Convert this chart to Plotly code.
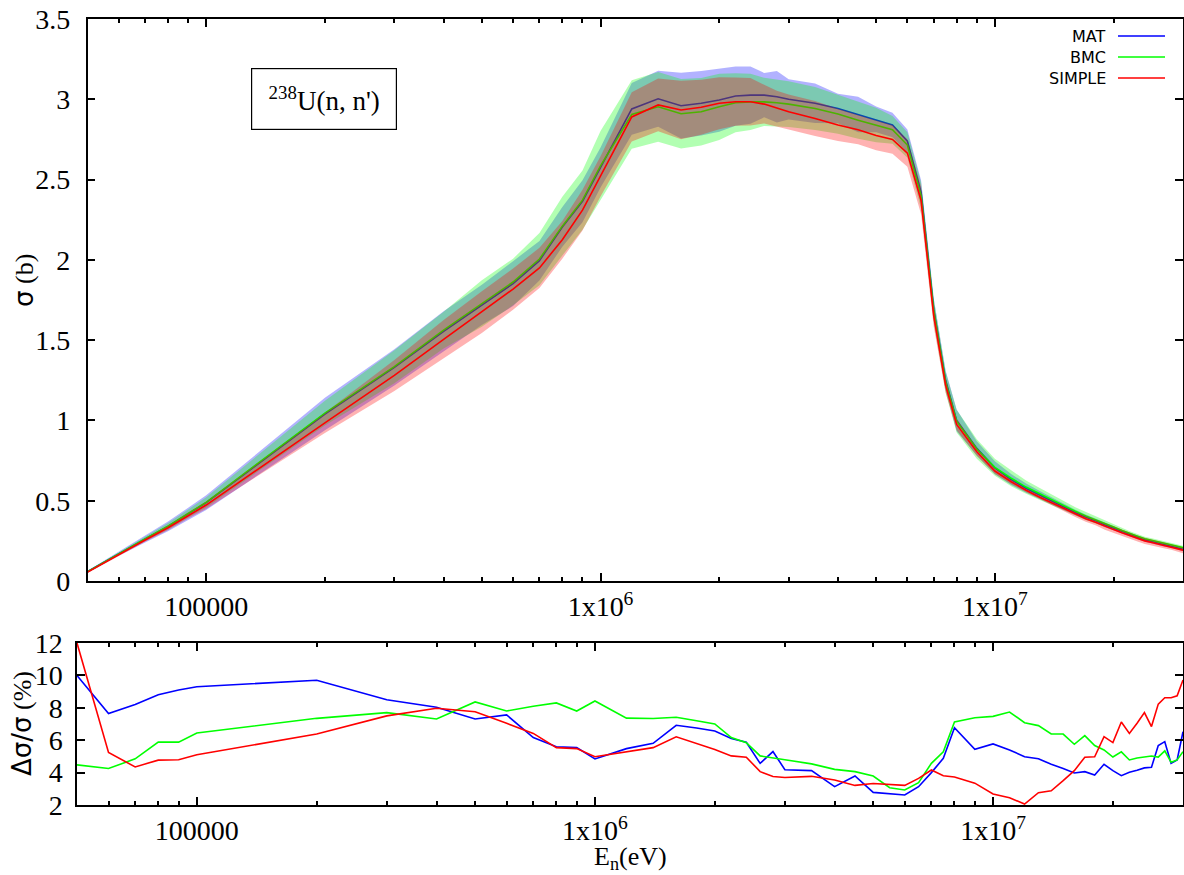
import numpy as np
import plotly.graph_objects as go

# ---------------- data ----------------
energy = [5e4, 6e4, 7e4, 8e4, 9e4, 1e5, 2e5, 3e5, 4e5, 5e5, 6e5, 7e5, 8e5, 9e5,
          1e6, 1.2e6, 1.4e6, 1.6e6, 1.8e6, 2e6, 2.2e6, 2.4e6, 2.6e6, 2.8e6, 3e6,
          3.5e6, 4e6, 4.5e6, 5e6, 5.5e6, 6e6, 6.5e6, 7e6, 7.5e6, 8e6, 9e6,
          1e7, 1.1e7, 1.2e7, 1.3e7, 1.4e7, 1.5e7, 1.6e7, 1.7e7, 1.8e7, 1.9e7,
          2e7, 2.1e7, 2.2e7, 2.3e7, 2.4e7, 2.5e7, 2.6e7, 2.7e7, 2.8e7, 2.9e7, 3e7]

mat_xs = [0.058, 0.170, 0.262, 0.340, 0.418, 0.488, 1.040, 1.330, 1.555, 1.720, 1.852, 1.995, 2.205, 2.365,
          2.575, 2.940, 3.003, 2.960, 2.975, 2.995, 3.020, 3.026, 3.026, 3.016, 3.000,
          2.975, 2.943, 2.905, 2.875, 2.840, 2.740, 2.420, 1.690, 1.250, 1.000, 0.826,
          0.705, 0.632, 0.578, 0.535, 0.496, 0.460, 0.426, 0.398, 0.376, 0.350,
          0.329, 0.308, 0.288, 0.272, 0.256, 0.246, 0.236, 0.227, 0.219, 0.208, 0.198]

bmc_xs = [0.058, 0.170, 0.262, 0.341, 0.420, 0.490, 1.046, 1.335, 1.562, 1.728, 1.862, 2.005, 2.210, 2.372,
          2.585, 2.905, 2.953, 2.910, 2.922, 2.953, 2.978, 2.984, 2.984, 2.978, 2.970,
          2.943, 2.908, 2.870, 2.840, 2.810, 2.715, 2.400, 1.680, 1.240, 0.995, 0.822,
          0.708, 0.640, 0.585, 0.542, 0.502, 0.467, 0.434, 0.405, 0.382, 0.357,
          0.336, 0.315, 0.295, 0.279, 0.263, 0.253, 0.243, 0.235, 0.227, 0.217, 0.208]

simple_xs = [0.055, 0.165, 0.255, 0.332, 0.408, 0.473, 0.985, 1.280, 1.505, 1.675, 1.818, 1.950, 2.125, 2.310,
             2.520, 2.890, 2.965, 2.933, 2.950, 2.975, 2.985, 2.985, 2.970, 2.943, 2.922,
             2.880, 2.840, 2.810, 2.775, 2.750, 2.665, 2.370, 1.650, 1.220, 0.975, 0.805,
             0.685, 0.618, 0.565, 0.522, 0.484, 0.449, 0.416, 0.388, 0.366, 0.341,
             0.320, 0.300, 0.281, 0.265, 0.250, 0.240, 0.230, 0.221, 0.213, 0.203, 0.192]

mat_unc = [10.0, 7.65, 8.2, 8.8, 9.1, 9.3, 9.7, 8.5, 8.03, 7.31, 7.56, 6.16, 5.6, 5.54,
           4.84, 5.48, 5.81, 6.92, 6.75, 6.57, 6.11, 5.87, 4.57, 5.3, 4.18,
           4.12, 3.13, 3.79, 2.78, 2.70, 2.62, 3.13, 4.0, 4.88, 6.77, 5.44,
           5.77, 5.4, 4.98, 4.86, 4.51, 4.25, 3.98, 4.06, 3.85, 4.51,
           4.12, 3.81, 4.02, 4.15, 4.29, 4.33, 5.67, 5.91, 4.57, 4.78, 6.52]

bmc_unc = [4.48, 4.25, 4.85, 5.88, 5.88, 6.44, 7.35, 7.7, 7.31, 8.36, 7.8, 8.1, 8.3, 7.8,
           8.42, 7.36, 7.34, 7.42, 7.2, 7.0, 6.16, 5.85, 5.03, 4.89, 4.79,
           4.54, 4.2, 4.06, 3.79, 3.07, 2.93, 3.38, 4.57, 5.29, 7.12, 7.39,
           7.47, 7.74, 7.08, 6.9, 6.38, 6.38, 5.75, 6.28, 5.67, 5.4,
           4.96, 5.28, 4.78, 4.9, 4.98, 5.02, 4.96, 5.34, 4.64, 4.78, 5.29]

simple_unc = [12.0, 5.24, 4.35, 4.77, 4.79, 5.1, 6.38, 7.5, 7.97, 7.76, 7.04, 6.42, 5.54, 5.48,
              4.98, 5.3, 5.54, 6.21, 5.8, 5.43, 5.03, 4.95, 4.06, 3.76, 3.7,
              3.77, 3.54, 3.21, 3.33, 3.27, 3.21, 3.64, 4.16, 3.81, 3.73, 3.35,
              2.68, 2.45, 2.06, 2.76, 2.88, 3.5, 4.12, 4.95, 4.98, 6.22,
              5.85, 7.12, 6.42, 7.05, 7.7, 6.84, 8.23, 8.62, 8.62, 8.74, 9.72]

series_names = ["MAT", "BMC", "SIMPLE"]
major_ticks = [1e5, 1e6, 1e7]
major_tick_text = ["100000", "1x10<sup>6</sup>", "1x10<sup>7</sup>"]

# ---------------- styling ----------------
W, H = 1184, 875
line_colors = ["#0000ff", "#00ff00", "#ff0000"]
fill_colors = ["rgba(0,0,255,0.3)", "rgba(0,255,0,0.3)", "rgba(255,0,0,0.3)"]
SERIF = "Liberation Serif"
SANS = "DejaVu Sans"
TICK_SIZE = 28


def px(x):
    return x / W


def py(y):
    return 1 - y / H


means = [mat_xs, bmc_xs, simple_xs]
uncs = [mat_unc, bmc_unc, simple_unc]

fig = go.Figure()
E = np.array(energy)
for name, mean, unc, lc, fc in zip(series_names, means, uncs, line_colors, fill_colors):
    m = np.array(mean)
    u = np.array(unc) / 100.0
    upper = m * (1 + u)
    lower = m * (1 - u)
    fig.add_trace(go.Scatter(
        x=np.concatenate([E, E[::-1]]), y=np.concatenate([upper, lower[::-1]]),
        fill="toself", fillcolor=fc, mode="lines", line=dict(width=0),
        xaxis="x", yaxis="y", showlegend=False, hoverinfo="skip"))
    fig.add_trace(go.Scatter(
        x=E, y=m, mode="lines", name=name, line=dict(color=lc, width=1.6),
        xaxis="x", yaxis="y", showlegend=False))

for name, unc, lc in zip(series_names, uncs, line_colors):
    fig.add_trace(go.Scatter(
        x=E, y=unc, mode="lines", name=name, line=dict(color=lc, width=1.6),
        xaxis="x2", yaxis="y2", showlegend=False))

minor_ticks = [k * 10 ** d for d in (4, 5, 6, 7) for k in range(2, 10)
               if 5e4 <= k * 10 ** d <= 3e7]


def xaxis(domain, anchor, standoff):
    return dict(
        type="log", range=[np.log10(5e4), np.log10(3e7)], domain=domain, anchor=anchor,
        tickmode="array", tickvals=major_ticks, ticktext=major_tick_text,
        ticks="inside", ticklen=8, tickwidth=1.5, tickcolor="black",
        minor=dict(tickmode="array", tickvals=minor_ticks, ticks="inside", ticklen=4,
                   tickwidth=1.5, tickcolor="black", showgrid=False),
        showline=True, linecolor="black", linewidth=1.5, mirror="allticks",
        showgrid=False, zeroline=False, ticklabelstandoff=standoff,
        tickfont=dict(family=SERIF, size=TICK_SIZE, color="black"))


def yaxis(domain, anchor, rng, dtick, standoff):
    return dict(
        range=rng, domain=domain, anchor=anchor, tick0=rng[0], dtick=dtick,
        ticks="inside", ticklen=8, tickwidth=1.5, tickcolor="black",
        showline=True, linecolor="black", linewidth=1.5, mirror="allticks",
        showgrid=False, zeroline=False, ticklabelstandoff=standoff,
        tickfont=dict(family=SERIF, size=TICK_SIZE, color="black"))


fig.update_layout(
    width=W, height=H,
    margin=dict(l=0, r=0, t=0, b=0, pad=0, autoexpand=False),
    paper_bgcolor="white", plot_bgcolor="white",
    xaxis=xaxis([px(87.5), px(1183)], "y", 0),
    yaxis=yaxis([py(581), py(19)], "x", [0, 3.5], 0.5, 10),
    xaxis2=xaxis([px(77), px(1183)], "y2", 0),
    yaxis2=yaxis([py(805), py(643)], "x2", [2, 12], 2, 7),
)

annotations = [
    dict(x=px(24), y=py(281), xref="paper", yref="paper", textangle=-90,
         text=f"<span style='font-family:{SANS}'>σ</span> (b)",
         font=dict(family=SERIF, size=26, color="black"), showarrow=False,
         xanchor="center", yanchor="middle"),
    dict(x=px(22), y=py(724), xref="paper", yref="paper", textangle=-90,
         text=f"<span style='font-family:{SANS}'>Δσ/σ</span> (%)",
         font=dict(family=SERIF, size=26, color="black"), showarrow=False,
         xanchor="center", yanchor="middle"),
    dict(x=px(630), y=0, xref="paper", yref="paper",
         text="E<sub>n</sub>(eV)",
         font=dict(family=SERIF, size=26, color="black"), showarrow=False,
         xanchor="center", yanchor="bottom", borderpad=0),
    dict(x=px(324), y=py(99), xref="paper", yref="paper",
         text="<sup>238</sup>U(n, n')",
         font=dict(family=SERIF, size=27, color="black"), showarrow=False,
         xanchor="center", yanchor="middle", width=144, height=60,
         bordercolor="black", borderwidth=1.2, borderpad=0, bgcolor="white"),
]
shapes = []
legend_rows = [36, 57, 78]
for name, lc, yrow in zip(series_names, line_colors, legend_rows):
    annotations.append(dict(x=px(1108), y=py(yrow), xref="paper", yref="paper",
                            text=name, font=dict(family=SANS, size=16, color="black"),
                            showarrow=False, xanchor="right", yanchor="middle"))
    shapes.append(dict(type="line", xref="paper", yref="paper",
                       x0=px(1118), x1=px(1165), y0=py(yrow), y1=py(yrow),
                       line=dict(color=lc, width=1.6)))

fig.update_layout(annotations=annotations, shapes=shapes)

fig.write_html("out.html", config={"displayModeBar": False},
               post_script="document.body.style.margin='0';")
